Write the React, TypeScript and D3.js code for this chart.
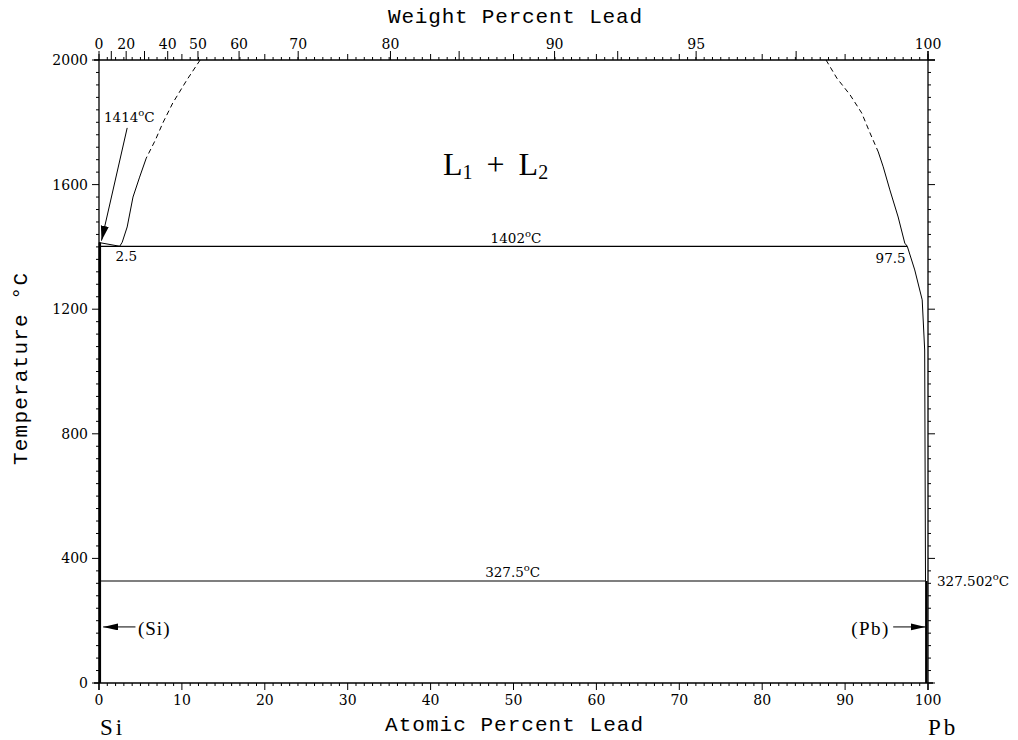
import React from "react";
import * as d3 from "d3";

// axis values
const tempTicks = [0, 400, 800, 1200, 1600, 2000];
const atomicTicks = [0, 10, 20, 30, 40, 50, 60, 70, 80, 90, 100];
const weightLabels = [0, 20, 40, 50, 60, 70, 80, 90, 95, 100];
const weightMajor = [0, 10, 20, 30, 40, 50, 60, 70, 80, 85, 90, 92.5, 95, 97.5, 100];

// phase boundaries [at% Pb, temperature C]
const leftDashed = [[12.2, 2000], [10.6, 1936], [8.9, 1862], [7.7, 1798], [6.8, 1743], [5.7, 1685]];
const leftSolid = [[5.7, 1685], [4.9, 1624], [4.1, 1560], [3.4, 1464], [2.8, 1415], [2.5, 1402]];
const rightDashed = [[87.7, 2000], [89.0, 1942], [90.6, 1888], [92.0, 1830], [93.0, 1766], [94.0, 1705]];
const rightSolid = [[94.0, 1705], [94.6, 1657], [95.4, 1583], [96.4, 1496], [97.2, 1412], [97.5, 1402], [98.4, 1326], [99.3, 1230], [99.6, 1069]];
const rightLower = [[99.6, 1069], [99.7, 327.5]];
const siLiquidus = [[0, 1414], [2.5, 1402]];
const monotectic = [[0, 1402], [97.5, 1402]];
const eutectic = [[0, 327.5], [99.7, 327.5]];
const siSolid = [[0.1, 1414], [0.1, 0]];
const pbSolid = [[99.8, 327.5], [99.8, 0]];

const PB = 207.2;
const SI = 28.0855;
const wtToAt = (w: number) => {
  if (w >= 100) return 100;
  const a = w / PB;
  const b = (100 - w) / SI;
  return (100 * a) / (a + b);
};

const numFont = "'DejaVu Serif', serif";
const monoFont = "'Liberation Mono', monospace";
const serif = "'Liberation Serif', serif";

export default function App() {
  const x = d3.scaleLinear().domain([0, 100]).range([99, 928]);
  const y = d3.scaleLinear().domain([0, 2000]).range([683, 60]);
  const line = d3.line<number[]>().x((d) => x(d[0])).y((d) => y(d[1]));

  const minorAt = d3.range(0, 101, 1);
  const minorT = d3.range(0, 2001, 40);
  const x0 = x(0), x1 = x(100), y0 = y(0), y1 = y(2000);

  const deg = (main: string, after = "C") => (
    <>
      {main}
      <tspan fontSize={10} dy={-6}>o</tspan>
      <tspan dy={6}>{after}</tspan>
    </>
  );

  return (
    <svg width={1018} height={740} style={{ position: "absolute", left: 0, top: 0, background: "#fff" }}>
      <defs>
        <marker id="ah" markerUnits="userSpaceOnUse" markerWidth={16} markerHeight={10} refX={15} refY={4} orient="auto">
          <path d="M0,0 L15,4 L0,8 Z" fill="#000" />
        </marker>
        <marker id="ah2" markerUnits="userSpaceOnUse" markerWidth={16} markerHeight={10} refX={15} refY={3.5} orient="auto">
          <path d="M0,0 L15,3.5 L0,7 Z" fill="#000" />
        </marker>
      </defs>
      <rect width={1018} height={740} fill="#fff" />

      {/* frame */}
      <g stroke="#000" strokeWidth={1.3} fill="none">
        <line x1={x0 - 5} x2={x1 + 7} y1={y1} y2={y1} />
        <line x1={x0 - 5} x2={x1 + 5} y1={y0} y2={y0} />
        <line x1={x0} x2={x0} y1={y1 - 1} y2={y0 + 7} />
        <line x1={x1} x2={x1} y1={y1 - 9} y2={y0 + 7} />
      </g>

      {/* ticks */}
      <g stroke="#000" strokeWidth={1}>
        {minorAt.map((v) => (
          <line key={"b" + v} x1={x(v)} x2={x(v)} y1={y0} y2={y0 + (v % 10 === 0 ? 7 : 3)} />
        ))}
        {minorAt.map((v) => (
          <line key={"t" + v} x1={x(v)} x2={x(v)} y1={y1} y2={y1 - (v % 10 === 0 ? 6 : 3)} />
        ))}
        {weightMajor.map((w) => (
          <line key={"w" + w} x1={x(wtToAt(w))} x2={x(wtToAt(w))} y1={y1} y2={y1 - 9} />
        ))}
        {minorT.map((t) => (
          <g key={"l" + t}>
            <line x1={x0} x2={x0 - (t % 400 === 0 ? 7 : 3)} y1={y(t)} y2={y(t)} />
            <line x1={x1} x2={x1 + (t % 400 === 0 ? 7 : 3)} y1={y(t)} y2={y(t)} />
          </g>
        ))}
      </g>

      {/* tick labels */}
      <g fontFamily={numFont} fontSize={14} fill="#000">
        {tempTicks.map((t) => (
          <text key={t} x={x0 - 11} y={y(t) + 5} textAnchor="end">{t}</text>
        ))}
        {atomicTicks.map((v) => (
          <text key={v} x={x(v)} y={y0 + 22} textAnchor="middle">{v}</text>
        ))}
        {weightLabels.map((w) => (
          <text key={w} x={x(wtToAt(w))} y={y1 - 11} textAnchor="middle">{w}</text>
        ))}
      </g>

      {/* axis titles */}
      <text x={515} y={23} fontFamily={monoFont} fontSize={21} textAnchor="middle" textLength={254} lengthAdjust="spacing">Weight Percent Lead</text>
      <text x={514} y={731} fontFamily={monoFont} fontSize={21} textAnchor="middle" textLength={258} lengthAdjust="spacing">Atomic Percent Lead</text>
      <text transform="translate(27,369) rotate(-90)" fontFamily={monoFont} fontSize={21} textAnchor="middle" textLength={192} lengthAdjust="spacing">Temperature °C</text>
      <text x={100} y={735} fontFamily={serif} fontSize={23} letterSpacing={3}>Si</text>
      <text x={928} y={735} fontFamily={serif} fontSize={23} letterSpacing={3}>Pb</text>

      {/* boundaries */}
      <g stroke="#000" fill="none" strokeWidth={1}>
        <path d={line(leftDashed) || ""} strokeDasharray="5,3.5" />
        <path d={line(leftSolid) || ""} />
        <path d={line(rightDashed) || ""} strokeDasharray="5,3.5" />
        <path d={line(rightSolid) || ""} />
        <path d={line(rightLower) || ""} />
        <path d={line(siLiquidus) || ""} />
        <path d={line(monotectic) || ""} strokeWidth={1.2} />
        <path d={line(eutectic) || ""} strokeWidth={1.2} />
        <path d={line(siSolid) || ""} strokeWidth={2.5} />
        <path d={line(pbSolid) || ""} strokeWidth={2.5} />
      </g>

      {/* arrows */}
      <g stroke="#000" strokeWidth={1} fill="none">
        <line x1={x(3.4)} y1={y(1782)} x2={x(0.3)} y2={y(1420)} markerEnd="url(#ah)" />
        <line x1={x(4.4)} y1={y(180)} x2={x(0.5)} y2={y(180)} markerEnd="url(#ah2)" />
        <line x1={x(95.8)} y1={y(180)} x2={x(99.7)} y2={y(180)} markerEnd="url(#ah2)" />
      </g>

      {/* annotations */}
      <g fontFamily={numFont} fontSize={13.5} fill="#000">
        <text x={x(0.6)} y={y(1801)}>{deg("1414")}</text>
        <text x={x(50.3)} y={y(1402) - 3} textAnchor="middle">{deg("1402")}</text>
        <text x={x(2.0)} y={y(1402) + 15}>2.5</text>
        <text x={x(97.3)} y={y(1402) + 17} textAnchor="end">97.5</text>
        <text x={x(49.9)} y={y(327.5) - 4} textAnchor="middle">{deg("327.5")}</text>
        <text x={x1 + 9} y={y(327.5) + 5}>{deg("327.502")}</text>
      </g>
      <text x={x(4.7)} y={y(180) + 8} fontFamily={serif} fontSize={19} letterSpacing={1}>(Si)</text>
      <text x={x(95.4)} y={y(180) + 8} fontFamily={serif} fontSize={19} letterSpacing={1.5} textAnchor="end">(Pb)</text>

      <text x={443} y={175} fontFamily={serif} fontSize={32}>
        L<tspan fontSize={20} dy={4}>1</tspan>
        <tspan dy={-4} dx={14}>+</tspan>
        <tspan dx={14}>L</tspan>
        <tspan fontSize={20} dy={4}>2</tspan>
      </text>
    </svg>
  );
}
